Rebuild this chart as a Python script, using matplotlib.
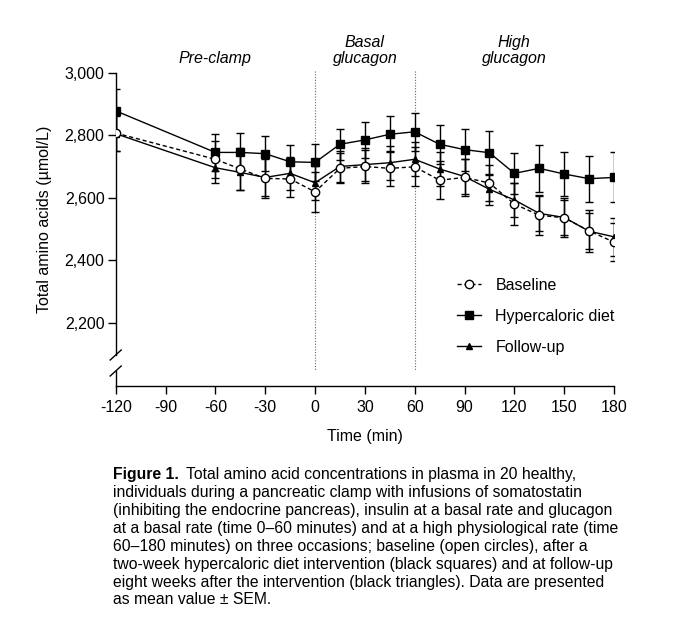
import matplotlib
matplotlib.use('Agg')
import matplotlib.pyplot as plt
import matplotlib.transforms as mtransforms
from matplotlib.lines import Line2D
from matplotlib.ticker import FuncFormatter

plt.rcParams['font.family'] = ['Liberation Sans', 'DejaVu Sans']

# data (mean and SEM, umol/L)
time_min = [-120, -60, -45, -30, -15, 0, 15, 30, 45, 60, 75, 90, 105, 120, 135, 150, 165, 180]
baseline_mean = [2807, 2723, 2692, 2662, 2660, 2619, 2694, 2700, 2694, 2699, 2656, 2665, 2647, 2580, 2544, 2536, 2494, 2458]
baseline_sem = [57, 60, 67, 64, 59, 63, 48, 53, 57, 62, 60, 60, 58, 66, 64, 63, 67, 60]
hyper_mean = [2878, 2745, 2745, 2741, 2715, 2713, 2771, 2785, 2803, 2811, 2771, 2754, 2744, 2678, 2694, 2676, 2661, 2665]
hyper_sem = [70, 58, 61, 55, 53, 59, 49, 57, 57, 60, 63, 67, 70, 65, 76, 69, 73, 80]
followup_mean = [2805, 2696, 2681, 2665, 2678, 2648, 2700, 2706, 2712, 2723, 2692, 2668, 2627, 2593, 2550, 2537, 2493, 2475]
followup_sem = [55, 50, 55, 58, 52, 55, 50, 52, 55, 55, 55, 55, 50, 55, 55, 55, 58, 60]

x_ticks = [-120, -90, -60, -30, 0, 30, 60, 90, 120, 150, 180]
y_ticks = [2200, 2400, 2600, 2800, 3000]
phase_lines = [0, 60]
phase_labels = [(-60, 'Pre-clamp'), (30, 'Basal\nglucagon'), (120, 'High\nglucagon')]

caption_lines = [
    'individuals during a pancreatic clamp with infusions of somatostatin',
    '(inhibiting the endocrine pancreas), insulin at a basal rate and glucagon',
    'at a basal rate (time 0\u201360 minutes) and at a high physiological rate (time',
    '60\u2013180 minutes) on three occasions; baseline (open circles), after a',
    'two-week hypercaloric diet intervention (black squares) and at follow-up',
    'eight weeks after the intervention (black triangles). Data are presented',
    'as mean value \u00b1 SEM.',
]

W, H = 680, 624


def fx(px):
    return px / W


def fy(py):
    return 1 - py / H


fig = plt.figure(figsize=(6.8, 6.24), dpi=100)

left, right = 115.7, 614
top_y, brk_hi, brk_lo, axis_y = 72.7, 355, 371, 386
ax_top = fig.add_axes([fx(left), fy(brk_hi), fx(right) - fx(left), fy(top_y) - fy(brk_hi)])
ax_bot = fig.add_axes([fx(left), fy(axis_y), fx(right) - fx(left), fy(brk_lo) - fy(axis_y)])

lw = 1.0
common = dict(color='black', capsize=3, elinewidth=lw, capthick=lw, lw=lw, mec='black')
ax_top.errorbar(time_min, hyper_mean, yerr=hyper_sem, fmt='s-', ms=5.5, mfc='black', zorder=3, **common)
ax_top.errorbar(time_min, followup_mean, yerr=followup_sem, fmt='^-', ms=5, mfc='black', zorder=4, **common)
eb = ax_top.errorbar(time_min, baseline_mean, yerr=baseline_sem, fmt='o--', ms=6, mfc='white', zorder=5, **common)
eb[0].set_dashes((3, 2))

ax_top.set_xlim(-120, 180)
ax_top.set_ylim(2097, 3000)
ax_top.set_yticks(y_ticks)
ax_top.yaxis.set_major_formatter(FuncFormatter(lambda v, p: f'{v:,.0f}'))
for s in ['top', 'right', 'bottom']:
    ax_top.spines[s].set_visible(False)
ax_top.tick_params(axis='x', bottom=False, labelbottom=False)
ax_top.tick_params(axis='y', length=6, width=1, labelsize=11.5, pad=2)
ax_top.spines['left'].set_linewidth(1)

ax_bot.set_xlim(-120, 180)
ax_bot.set_ylim(0, 1)
ax_bot.set_yticks([])
ax_bot.set_xticks(x_ticks)
ax_bot.set_xticklabels([str(t) for t in x_ticks])
for s in ['top', 'right']:
    ax_bot.spines[s].set_visible(False)
ax_bot.spines['left'].set_linewidth(1)
ax_bot.spines['bottom'].set_linewidth(1)
ax_bot.tick_params(axis='x', length=6, width=1, labelsize=11.5, pad=4)

# dotted phase separators running across the axis break
ext = (axis_y - brk_hi) / (brk_hi - top_y)
for t in phase_lines:
    ax_top.axvline(t, ymin=-ext, ymax=1.01, color='#666666', lw=0.8, ls=(0, (1, 1.5)),
                   clip_on=False, zorder=1)

# axis break marks
for cy in [brk_hi, brk_lo]:
    fig.add_artist(Line2D([fx(left - 5.5), fx(left + 5.5)], [fy(cy + 5), fy(cy - 5)],
                          transform=fig.transFigure, color='black', lw=1))

# phase labels
trans = mtransforms.blended_transform_factory(ax_top.transData, fig.transFigure)
for xpos, label in phase_labels:
    ypos = 58 if '\n' not in label else 50.5
    ax_top.text(xpos, fy(ypos), label, transform=trans, ha='center', va='center',
                fontsize=11.5, style='italic', linespacing=1.15)

fig.text(fx(45), fy(219), 'Total amino acids (\u00b5mol/L)', rotation=90,
         ha='center', va='center', fontsize=11.5)
fig.text(fx(364.8), fy(437), 'Time (min)', ha='center', va='center', fontsize=11.5)

handles = [
    Line2D([], [], color='black', lw=lw, ls=(0, (3, 2)), marker='o', ms=6, mfc='white', mec='black'),
    Line2D([], [], color='black', lw=lw, marker='s', ms=5.5, mfc='black', mec='black'),
    Line2D([], [], color='black', lw=lw, marker='^', ms=5, mfc='black', mec='black'),
]
fig.legend(handles, ['Baseline', 'Hypercaloric diet', 'Follow-up'],
           loc='upper left', bbox_to_anchor=(fx(457), fy(278)), frameon=False,
           fontsize=11.5, handlelength=1.5, handletextpad=0.9, labelspacing=1.0,
           borderpad=0, borderaxespad=0)

# caption
cap_size = 11.3
cap_x = 113
bold = fig.text(fx(cap_x), fy(474), 'Figure 1.', fontsize=cap_size, fontweight='bold',
                ha='left', va='center')
renderer = fig.canvas.get_renderer()
bb = bold.get_window_extent(renderer)
fig.text(bb.x1 / W + fx(7), fy(474), 'Total amino acid concentrations in plasma in 20 healthy,',
         fontsize=cap_size, ha='left', va='center')
for i, line in enumerate(caption_lines):
    fig.text(fx(cap_x), fy(474 + 18 * (i + 1)), line, fontsize=cap_size, ha='left', va='center')

fig.savefig('out.png', dpi=100)
